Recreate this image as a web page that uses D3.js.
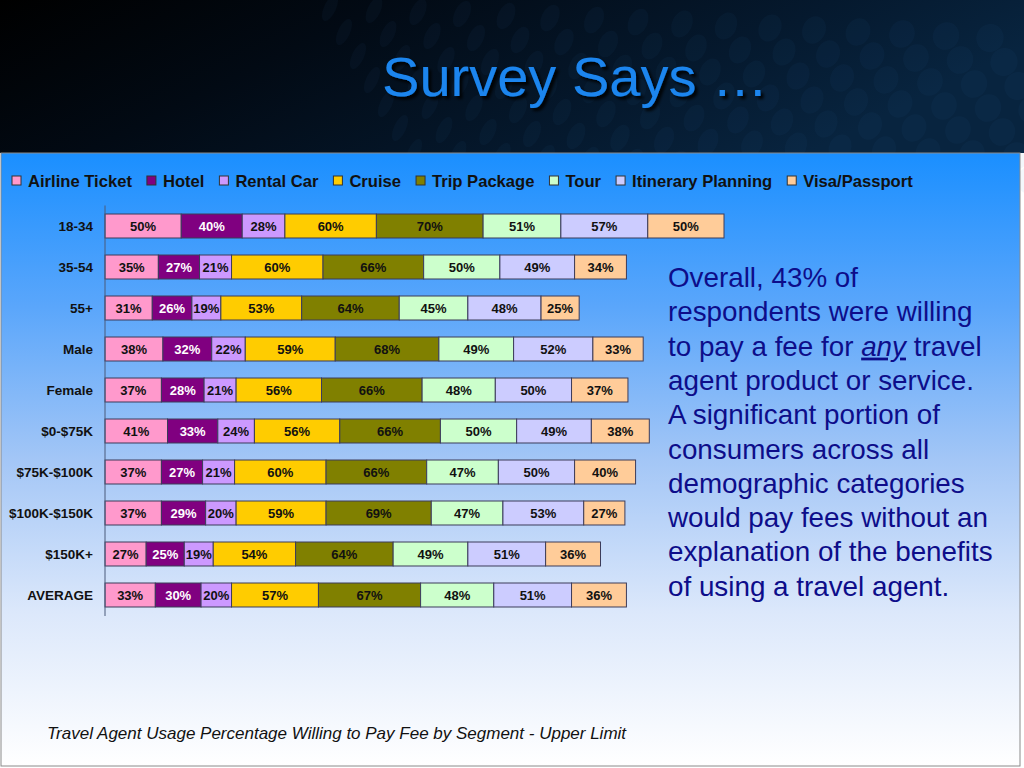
<!DOCTYPE html>
<html>
<head>
<meta charset="utf-8">
<script src="https://cdn.jsdelivr.net/npm/d3@7"></script>
<style>
  html, body { margin: 0; padding: 0; background: #fff; }
  svg { display: block; font-family: Arial, "Liberation Sans", sans-serif; }
</style>
</head>
<body>
<svg id="chart" width="1024" height="768"></svg>
<script>
// 数据
var segments = ['18-34', '35-54', '55+', 'Male', 'Female', '$0-$75K', '$75K-$100K', '$100K-$150K', '$150K+', 'AVERAGE']
var services = ['Airline Ticket', 'Hotel', 'Rental Car', 'Cruise', 'Trip Package', 'Tour', 'Itinerary Planning', 'Visa/Passport']
var colors = ['#ff99cc', '#800080', '#cc99ff', '#ffcc00', '#808000', '#ccffcc', '#ccccff', '#ffcc99']

var airline = [50, 35, 31, 38, 37, 41, 37, 37, 27, 33]
var hotel = [40, 27, 26, 32, 28, 33, 27, 29, 25, 30]
var rentalCar = [28, 21, 19, 22, 21, 24, 21, 20, 19, 20]
var cruise = [60, 60, 53, 59, 56, 56, 60, 59, 54, 57]
var tripPackage = [70, 66, 64, 68, 66, 66, 66, 69, 64, 67]
var tour = [51, 50, 45, 49, 48, 50, 47, 47, 49, 48]
var itinerary = [57, 49, 48, 52, 50, 49, 50, 53, 51, 51]
var visa = [50, 34, 25, 33, 37, 38, 40, 27, 36, 36]

var seriesValues = [airline, hotel, rentalCar, cruise, tripPackage, tour, itinerary, visa]

var noteLines = [
  'Overall, 43% of',
  'respondents were willing',
  ['to pay a fee for ', 'any', ' travel'],
  'agent product or service.',
  'A significant portion of',
  'consumers across all',
  'demographic categories',
  'would pay fees without an',
  'explanation of the benefits',
  'of using a travel agent.'
]

var svg = d3.select('#chart')
var defs = svg.append('defs')

// 背景
var headGrad = defs.append('linearGradient').attr('id', 'headGrad')
  .attr('x1', 0).attr('y1', 0).attr('x2', 1).attr('y2', 0.3)
headGrad.append('stop').attr('offset', 0).attr('stop-color', '#000000')
headGrad.append('stop').attr('offset', 0.35).attr('stop-color', '#020a14')
headGrad.append('stop').attr('offset', 0.75).attr('stop-color', '#05192e')
headGrad.append('stop').attr('offset', 1).attr('stop-color', '#08243f')

var bodyGrad = defs.append('linearGradient').attr('id', 'bodyGrad')
  .attr('x1', 0).attr('y1', 0).attr('x2', 0).attr('y2', 1)
bodyGrad.append('stop').attr('offset', 0).attr('stop-color', '#1a8fff')
bodyGrad.append('stop').attr('offset', 0.25).attr('stop-color', '#5aa6fb')
bodyGrad.append('stop').attr('offset', 0.5).attr('stop-color', '#a3c6f6')
bodyGrad.append('stop').attr('offset', 0.75).attr('stop-color', '#dce8fb')
bodyGrad.append('stop').attr('offset', 1).attr('stop-color', '#ffffff')

var shadow = defs.append('filter').attr('id', 'shadow')
  .attr('x', '-10%').attr('y', '-10%').attr('width', '130%').attr('height', '140%')
shadow.append('feDropShadow').attr('dx', 3).attr('dy', 3).attr('stdDeviation', 1.5)
  .attr('flood-color', '#000').attr('flood-opacity', 0.9)

svg.append('rect').attr('x', 0).attr('y', 0).attr('width', 1024).attr('height', 153)
  .attr('fill', 'url(#headGrad)')

// 头部的淡淡椭圆纹理
var dots = svg.append('g').attr('opacity', 0.05)
for (var c = 0; c < 16; c++) {
  for (var r = 0; r < 7; r++) {
    var cx = 330 + c * 44 + r * 14
    var cy = 8 + r * 24 + c * 2
    dots.append('ellipse')
      .attr('cx', cx)
      .attr('cy', cy)
      .attr('rx', 6 + c * 0.5)
      .attr('ry', 14)
      .attr('transform', 'rotate(25,' + cx + ',' + cy + ')')
      .attr('fill', '#3a78b8')
  }
}

svg.append('rect').attr('x', 1).attr('y', 153).attr('width', 1019).attr('height', 613)
  .attr('fill', 'url(#bodyGrad)')
  .attr('stroke', '#8a8a8a').attr('stroke-width', 1)

// 标题
svg.append('text')
  .attr('x', 575).attr('y', 96)
  .attr('text-anchor', 'middle')
  .attr('font-size', 56)
  .attr('fill', '#1a85ee')
  .attr('filter', 'url(#shadow)')
  .text('Survey Says …')

// 比例尺
var totals = segments.map(function (s, i) {
  return d3.sum(seriesValues, function (v) { return v[i] })
})
var x = d3.scaleLinear().domain([0, d3.max(totals)]).range([105, 724])
var y = d3.scaleBand().domain(segments).range([205.5, 615.5]).paddingInner(0.415).paddingOuter(0.2075)

var stack = segments.map(function (s, i) {
  var acc = 0
  return seriesValues.map(function (v, k) {
    var d = { seg: s, k: k, value: v[i], x0: acc, x1: acc + v[i] }
    acc += v[i]
    return d
  })
})

var rows = svg.append('g').selectAll('g.row')
  .data(stack)
  .join('g')
  .attr('class', 'row')

rows.selectAll('rect')
  .data(function (d) { return d })
  .join('rect')
  .attr('x', function (d) { return x(d.x0) })
  .attr('y', function (d) { return y(d.seg) })
  .attr('width', function (d) { return x(d.x1) - x(d.x0) })
  .attr('height', y.bandwidth())
  .attr('fill', function (d) { return colors[d.k] })
  .attr('stroke', '#3c3c5a')
  .attr('stroke-width', 1)

rows.selectAll('text')
  .data(function (d) { return d })
  .join('text')
  .attr('x', function (d) { return (x(d.x0) + x(d.x1)) / 2 })
  .attr('y', function (d) { return y(d.seg) + y.bandwidth() / 2 + 5 })
  .attr('text-anchor', 'middle')
  .attr('font-size', 13)
  .attr('font-weight', 'bold')
  .attr('fill', function (d) { return d.k === 1 ? '#ffffff' : '#111111' })
  .text(function (d) { return d.value + '%' })

// 纵轴
var yAxis = svg.append('g')
  .attr('transform', 'translate(105,0)')
  .call(d3.axisLeft(y).tickSize(0).tickPadding(12))
yAxis.select('.domain').attr('stroke', '#4a5a7a').attr('d', 'M0,' + 205.5 + 'V' + 616)
yAxis.selectAll('text')
  .attr('font-family', 'Arial, "Liberation Sans", sans-serif')
  .attr('font-size', 13.5)
  .attr('font-weight', 'bold')
  .attr('fill', '#111111')
  .attr('dy', '0.38em')

// 图例
var legend = svg.append('g')
var lx = 12
services.forEach(function (name, k) {
  legend.append('rect')
    .attr('x', lx).attr('y', 176)
    .attr('width', 9).attr('height', 9)
    .attr('fill', colors[k])
    .attr('stroke', '#333').attr('stroke-width', 1)
  var t = legend.append('text')
    .attr('x', lx + 16).attr('y', 186.5)
    .attr('font-size', 16.6)
    .attr('font-weight', 'bold')
    .attr('fill', '#111111')
    .text(name)
  lx = lx + 16 + t.node().getComputedTextLength() + 15
})

// 右侧说明文字
var note = svg.append('g')
noteLines.forEach(function (line, i) {
  var t = note.append('text')
    .attr('x', 668).attr('y', 287 + i * 34.3)
    .attr('font-size', 27.8)
    .attr('fill', '#0d0d8a')
  if (typeof line === 'string') {
    t.text(line)
  } else {
    t.append('tspan').text(line[0])
    t.append('tspan').attr('font-style', 'italic').attr('text-decoration', 'underline').text(line[1])
    t.append('tspan').text(line[2])
  }
})

// 说明
svg.append('text')
  .attr('x', 47).attr('y', 739)
  .attr('font-size', 17)
  .attr('font-style', 'italic')
  .attr('fill', '#111111')
  .text('Travel Agent Usage Percentage Willing to Pay Fee by Segment - Upper Limit')
</script>
</body>
</html>
